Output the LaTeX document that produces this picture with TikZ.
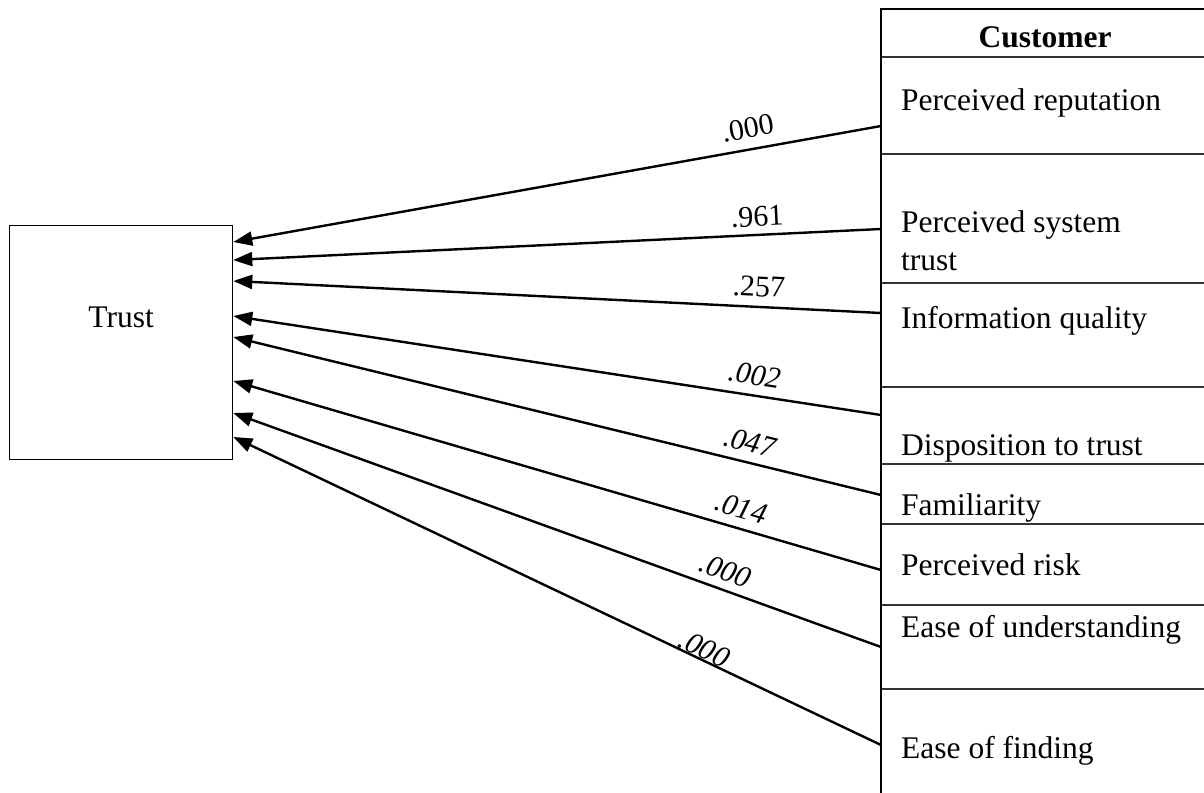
\documentclass[tikz,border=0pt]{standalone}
\usepackage{fontspec}
\setmainfont{Liberation Serif}
\usetikzlibrary{arrows.meta,calc}
\begin{document}
\begin{tikzpicture}[x=1pt,y=-1pt,
  every node/.style={font=\fontsize{31.5}{38}\selectfont},
  conn/.style={line width=2.4pt,-{Triangle[length=19pt,width=14pt]}},
  lab/.style={font=\fontsize{30}{36}\selectfont,sloped,inner sep=0pt},
  labi/.style={lab,font=\fontsize{30}{36}\selectfont\itshape},
  rowtxt/.style={anchor=base west,inner sep=0pt,align=left},
  divider/.style={line width=1.4pt,black!80},
]
\useasboundingbox (0,0) rectangle (1204,792);

% Trust box
\node[draw,line width=1.3pt,anchor=north west,inner sep=0pt,minimum width=223pt,
      text height=102pt,text depth=132pt] (trust) at (9,225) {Trust};

% table frame
\coordinate (tab) at (881,9);
\draw[line width=2.8pt] (tab) -- ($(tab)+(0,790)$);
\draw[line width=1.8pt] ($(tab)+(-1.4,0)$) -- ($(tab)+(330,0)$);
\foreach \d in {48,145,274,378,455,515,596,680}
  \draw[divider] ($(tab)+(1,\d)$) -- ($(tab)+(330,\d)$);

\node[font=\fontsize{31.5}{38}\selectfont\bfseries,anchor=base,inner sep=0pt] (hdr) at (1045,48) {Customer};
\node[rowtxt] (r1) at (901,110) {Perceived reputation};
\node[rowtxt] (r2) at (901,270) {Perceived system\\trust};
\node[rowtxt] (r3) at (901,328) {Information quality};
\node[rowtxt] (r4) at (901,455) {Disposition to trust};
\node[rowtxt] (r5) at (901,515) {Familiarity};
\node[rowtxt] (r6) at (901,575) {Perceived risk};
\node[rowtxt] (r7) at (901,637) {Ease of understanding};
\node[rowtxt] (r8) at (901,758) {Ease of finding};

% connector ends
\foreach \i/\sy/\ty in {1/117/17,2/220/35,3/304/56,4/406/91,5/486/112,6/561/156,7/638/188,8/736/212}{
  \coordinate (s\i) at ($(tab)+(0,\sy)$);
  \coordinate (t\i) at ($(trust.north east)+(0,\ty)$);
}

\draw[conn] (s1) -- node[lab,pos=0.20,above=10pt]{.000} (t1);
\draw[conn] (s2) -- node[lab,pos=0.19,above=7pt]{.961} (t2);
\draw[conn] (s3) -- node[lab,pos=0.19,above=9pt]{.257} (t3);
\draw[conn] (s4) -- node[labi,pos=0.20,above=9pt]{.002} (t4);
\draw[conn] (s5) -- node[labi,pos=0.21,above=9pt]{.047} (t5);
\draw[conn] (s6) -- node[labi,pos=0.225,above=9pt]{.014} (t6);
\draw[conn] (s7) -- node[labi,pos=0.25,above=8pt]{.000} (t7);
\draw[conn] (s8) -- node[labi,pos=0.28,above=0pt]{.000} (t8);
\end{tikzpicture}
\end{document}
